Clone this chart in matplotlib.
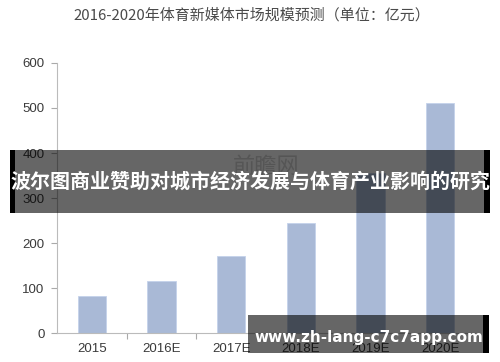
import matplotlib.pyplot as plt
from matplotlib.patches import Rectangle

# chart data
years = ['2015', '2016E', '2017E', '2018E', '2019E', '2020E']
market_size = [82, 115, 171, 244, 356, 511]
y_ticks = [0, 100, 200, 300, 400, 500, 600]

title = '2016-2020年体育新媒体市场规模预测（单位：亿元）'
banner = '波尔图商业赞助对城市经济发展与体育产业影响的研究'
site = 'www.zh-lang-c7c7app.com'

plt.rcParams['font.family'] = ['Liberation Sans', 'Noto Sans CJK SC', 'DejaVu Sans']

fig = plt.figure(figsize=(5.0, 3.62), dpi=100)
ax = fig.add_axes([0.114, 0.080, 0.836, 0.746])

x = list(range(len(years)))
ax.bar(x, market_size, width=0.41, color='#a9b9d6', edgecolor='#c4d2ea', linewidth=0.6, zorder=2)

# faint source watermark behind the bars
ax.text(2.5, 370, '前瞻网', fontsize=16, color='#d6d6d6', ha='center', va='center',
        family=['Noto Sans CJK SC'], zorder=1)

# set axis properties
ax.set_xlim(-0.5, len(years) - 0.5)
ax.set_ylim(0, 600)
ax.set_yticks(y_ticks)
ax.set_xticks(x)
ax.set_xticklabels(years)
ax.set_xticks([i + 0.5 for i in x[:-1]], minor=True)
ax.tick_params(axis='x', which='major', length=0, pad=7, labelsize=9.5, labelcolor='#3a3a3a')
ax.tick_params(axis='x', which='minor', length=4, color='#aaaaaa', width=0.8)
ax.tick_params(axis='y', length=4, color='#aaaaaa', width=0.8, pad=5, labelsize=9.5, labelcolor='#3a3a3a')
ax.spines['top'].set_visible(False)
ax.spines['right'].set_visible(False)
ax.spines['left'].set_color('#bbbbbb')
ax.spines['bottom'].set_color('#bbbbbb')

fig.text(0.503, 0.959, title, ha='center', va='center', fontsize=10.8, color='#4a4a4a',
         family=['Noto Sans CJK SC', 'DejaVu Sans'])


def overlay(x0, x1, y0, y1, left_edge=True):
    # translucent dark band with solid black end strips (pixel coordinates)
    W, H = 500.0, 362.0
    fy0, fh = 1 - y1 / H, (y1 - y0) / H
    fig.add_artist(Rectangle((x0 / W, fy0), (x1 - x0) / W, fh, transform=fig.transFigure,
                             facecolor='black', alpha=0.6, edgecolor='none', zorder=5))
    fig.add_artist(Rectangle((x1 / W, fy0), 6 / W, fh, transform=fig.transFigure,
                             facecolor='black', edgecolor='none', zorder=5))
    if left_edge:
        fig.add_artist(Rectangle(((x0 - 5) / W, fy0), 5 / W, fh, transform=fig.transFigure,
                                 facecolor='black', edgecolor='none', zorder=5))


overlay(15, 484, 150, 213)
fig.text(0.5, 0.500, banner, ha='center', va='center', fontsize=14.4, color='white',
         fontweight='bold', family=['Noto Sans CJK SC'], zorder=7)

# site label in the bottom right corner
overlay(248, 483, 315, 353, left_edge=False)
fig.text(0.738, 0.069, site, ha='center', va='center', fontsize=11, color='white',
         fontweight='bold', family=['DejaVu Sans'], zorder=7)

plt.savefig('out.png', dpi=100)
